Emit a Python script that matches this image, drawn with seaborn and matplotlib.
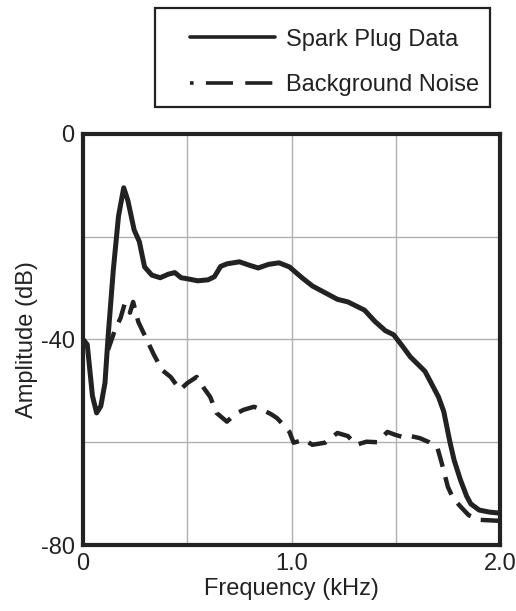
"""
Spark plug spectrum vs background noise, redrawn with seaborn.
"""

import matplotlib
matplotlib.use("Agg")
import matplotlib.pyplot as plt
from matplotlib.lines import Line2D
from matplotlib.patches import Rectangle
from matplotlib.ticker import FixedLocator
import seaborn as sns
import pandas as pd

# Spark plug data (solid)
spark_freq = [0.0, 0.02, 0.045, 0.065, 0.085, 0.105, 0.12, 0.145, 0.17, 0.195,
              0.215, 0.245, 0.27, 0.295, 0.33, 0.37, 0.41, 0.44, 0.47, 0.5,
              0.55, 0.6, 0.63, 0.66, 0.69, 0.75, 0.8, 0.84, 0.89, 0.94,
              0.99, 1.05, 1.1, 1.16, 1.22, 1.27, 1.31, 1.35, 1.4, 1.45,
              1.49, 1.53, 1.57, 1.61, 1.64, 1.67, 1.705, 1.73, 1.76, 1.78,
              1.81, 1.84, 1.86, 1.9, 1.95, 2.0]
spark_amp = [-40, -41, -51, -54.3, -53, -48.5, -39.5, -26.5, -16, -10.5,
             -13, -18.7, -21, -25.9, -27.5, -28, -27.3, -27, -28, -28.2,
             -28.6, -28.4, -27.8, -25.8, -25.3, -24.9, -25.6, -26.1, -25.4, -25.1,
             -25.9, -28, -29.6, -30.9, -32.2, -32.7, -33.5, -34.3, -36.5, -38.3,
             -39.1, -41.2, -43.4, -45, -46.2, -48.5, -51.2, -54, -60, -63.5,
             -67.3, -70.5, -72, -73.2, -73.6, -73.8]

# Background noise (dashed)
noise_freq = [0.12, 0.15, 0.18, 0.2, 0.225, 0.24, 0.265, 0.305, 0.34, 0.38,
              0.42, 0.465, 0.5, 0.545, 0.58, 0.61, 0.64, 0.69, 0.73, 0.77,
              0.82, 0.86, 0.9, 0.93, 0.97, 0.99, 1.01, 1.06, 1.1, 1.16,
              1.22, 1.27, 1.31, 1.36, 1.41, 1.46, 1.5, 1.535, 1.57, 1.615,
              1.66, 1.70, 1.72, 1.75, 1.775, 1.81, 1.85, 1.90, 1.95, 2.0]
noise_amp = [-42, -38.5, -35.8, -33, -34.8, -32.7, -36.6, -40, -43, -46,
             -47.3, -49.8, -48.5, -47.3, -49.5, -51.2, -54.3, -56, -54.5, -53.7,
             -53.1, -53.7, -54.5, -55.3, -57, -58, -60.1, -59.5, -60.5, -60.1,
             -58.2, -58.8, -60.5, -59.9, -60, -58, -58.6, -59, -58.8, -59.2,
             -60, -61.1, -64, -68.7, -70.9, -72.5, -74.2, -75.1, -75.2, -75.3]

x_ticks = [0.0, 1.0, 2.0]
x_tick_labels = ["0", "1.0", "2.0"]
x_grid = [0.5, 1.5]
y_ticks = [-80, -40, 0]
y_tick_labels = ["-80", "-40", "0"]
y_grid = [-60, -20]

labels = ["Spark Plug Data", "Background Noise"]

sns.set_style("white")
plt.rcParams["font.family"] = ["Liberation Sans", "DejaVu Sans"]

ink = "#222222"
fs = 17

spark = pd.DataFrame({"freq": spark_freq, "amp": spark_amp})
noise = pd.DataFrame({"freq": noise_freq, "amp": noise_amp})

fig = plt.figure(figsize=(5.16, 6.11), dpi=100)
ax = fig.add_axes([0.161, 0.108, 0.808, 0.673])

sns.lineplot(data=spark, x="freq", y="amp", ax=ax, color=ink, lw=3.6,
             sort=False, estimator=None)
sns.lineplot(data=noise, x="freq", y="amp", ax=ax, color=ink, lw=3.2,
             sort=False, estimator=None)
ax.lines[-1].set_dashes([4.2, 2.4])

ax.set_xlim(0, 2.0)
ax.set_ylim(-80, 0)

ax.xaxis.set_major_locator(FixedLocator(x_ticks))
ax.xaxis.set_minor_locator(FixedLocator(x_grid))
ax.set_xticklabels(x_tick_labels)
ax.yaxis.set_major_locator(FixedLocator(y_ticks))
ax.yaxis.set_minor_locator(FixedLocator(y_grid))
ax.set_yticklabels(y_tick_labels)

ax.grid(True, which="both", color="#b0b0b0", lw=1.0)
ax.set_axisbelow(True)
ax.tick_params(which="both", length=0, labelsize=fs, colors=ink, pad=6)

for side in ax.spines.values():
    side.set_visible(True)
    side.set_color(ink)
    side.set_linewidth(3.0)

ax.set_xlabel("Frequency (kHz)", fontsize=fs, color=ink, labelpad=2)
ax.set_ylabel("Amplitude (dB)", fontsize=fs, color=ink, labelpad=2)

# legend: text block without frame, box drawn separately in figure pixels
handles = [
    Line2D([], [], color=ink, lw=2.6),
    Line2D([], [], color=ink, lw=2.6,
           linestyle=(0, (1.0, 3.4, 7.5, 3.4, 7.5, 30))),
]
leg = fig.legend(handles, labels, loc="center left",
                 bbox_to_anchor=(190 / 516, 1 - 62.5 / 611),
                 fontsize=fs, frameon=False, handlelength=3.6,
                 handletextpad=0.45, borderpad=0, labelspacing=1.0,
                 borderaxespad=0)
for txt in leg.get_texts():
    txt.set_color(ink)

box = Rectangle((155 / 516, 1 - 107 / 611), 335 / 516, 99 / 611,
                transform=fig.transFigure, fill=False, edgecolor=ink, lw=1.6)
fig.add_artist(box)

fig.savefig("out.png", dpi=100, facecolor="white")
